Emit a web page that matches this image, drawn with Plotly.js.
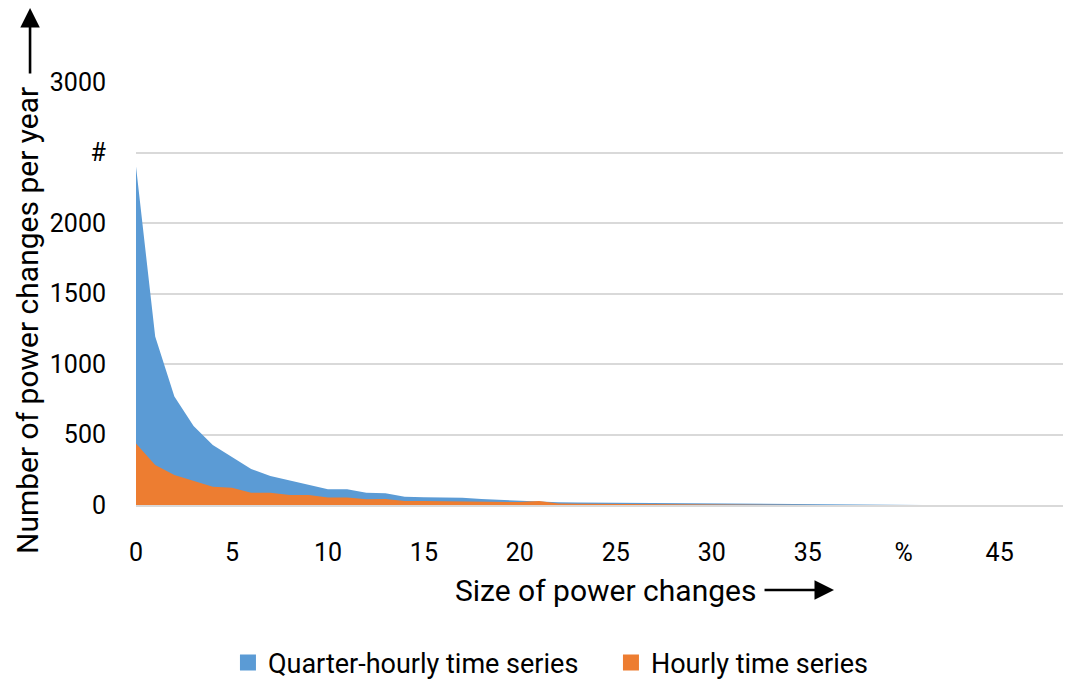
<!DOCTYPE html>
<html><head><meta charset="utf-8">
<script src="https://cdn.plot.ly/plotly-3.0.1.min.js"></script>
<style>html,body{margin:0;padding:0;background:#fff}#c{width:1068px;height:681px}</style>
</head><body><div id="c"></div>
<script>
const sizes = [0,1,2,3,4,5,6,7,8,9,10,11,12,13,14,15,16,17,18,19,20,21,22,23,24,25,26,27,28,29,30,31,32,33,34,35,36,37,38,39,40,41,42,43,44,45,46,47,48];
const quarterHourly = [2400,1195,770,560,425,340,255,206,173,142,111,111,87,83,59,55,52,52,42,35,28,24,19,18,17,16,15,14,8,7,6,6,5,5,4,4,3,2,0,0,0,0,0,0,0,0,0,0,0];
const hourly = [437,284,213,173,130,123,87,87,71,71,54,54,40,42,28,28,26,26,21,21,21,28,10,8,7,6,5,5,4,3,3,2,2,2,1,1,0,0,0,0,0,0,0,0,0,0,0,0,0];
const xTickVals = [0,5,10,15,20,25,30,35,40,45];
const xTickText = ["0","5","10","15","20","25","30","35","%","45"];
const yTickVals = [0,500,1000,1500,2000,2500,3000];
const yTickText = ["0","500","1000","1500","2000","#","3000"];
const seriesNames = ["Quarter-hourly time series", "Hourly time series"];
const seriesColors = ["#5B9BD5", "#ED7D31"];

const font = {family: "Roboto, sans-serif", color: "#000"};
const traces = [
  {x: sizes, y: quarterHourly, name: seriesNames[0], type: "scatter", mode: "lines", showlegend: false,
   fill: "tozeroy", line: {width: 0, color: seriesColors[0]}, fillcolor: seriesColors[0]},
  {x: sizes, y: hourly, name: seriesNames[1], type: "scatter", mode: "lines", showlegend: false,
   fill: "tozeroy", line: {width: 0, color: seriesColors[1]}, fillcolor: seriesColors[1]},
  {x: [null], y: [null], type: "scatter", mode: "markers", name: seriesNames[0],
   marker: {color: seriesColors[0], symbol: "square", size: 16}, showlegend: true},
  {x: [null], y: [null], type: "scatter", mode: "markers", name: seriesNames[1],
   marker: {color: seriesColors[1], symbol: "square", size: 16}, showlegend: true}
];
const layout = {
  width: 1068, height: 681,
  margin: {l: 136, r: 5, t: 82, b: 176, autoexpand: false},
  paper_bgcolor: "#fff", plot_bgcolor: "#fff",
  font: Object.assign({size: 25}, font),
  showlegend: true,
  legend: {orientation: "h", x: 0.0992, xanchor: "left", y: -0.3735, yanchor: "middle",
           entrywidth: 338, entrywidthmode: "pixels", itemsizing: "trace",
           font: Object.assign({size: 27}, font), itemwidth: 30, tracegroupgap: 0, traceorder: "normal"},
  xaxis: {range: [0, 48.3], tickvals: xTickVals, ticktext: xTickText, showgrid: false,
          zeroline: false, showline: true, linecolor: "#d9d9d9", linewidth: 2,
          ticks: "", ticklabelstandoff: 24, tickfont: Object.assign({size: 25}, font), fixedrange: true, automargin: false},
  yaxis: {range: [0, 3000], tickvals: yTickVals, ticktext: yTickText, showgrid: true,
          gridcolor: "#d9d9d9", gridwidth: 2, zeroline: false, showline: false,
          ticks: "", ticklabelstandoff: 29, tickfont: Object.assign({size: 25}, font), fixedrange: true, automargin: false},
  annotations: [
    {xref: "paper", yref: "paper", x: 0.5065, y: -0.201, text: "Size of power changes",
     showarrow: false, font: Object.assign({size: 30}, font), xanchor: "center", yanchor: "middle"},
    {xref: "paper", yref: "paper", x: 0.753, y: -0.201, ax: -71, ay: 0, text: "",
     showarrow: true, arrowhead: 2, arrowsize: 1.5, arrowwidth: 2.6, arrowcolor: "#000"},
    {xref: "paper", yref: "paper", x: -0.1165, y: 0.435, text: "Number of power changes per year",
     textangle: -90, showarrow: false, font: Object.assign({size: 30}, font), xanchor: "center", yanchor: "middle"},
    {xref: "paper", yref: "paper", x: -0.1143, y: 1.175, ax: 0, ay: 67, text: "",
     showarrow: true, arrowhead: 2, arrowsize: 1.5, arrowwidth: 2.6, arrowcolor: "#000"}
  ]
};
Plotly.newPlot("c", traces, layout, {displayModeBar: false, staticPlot: true});
</script></body></html>
